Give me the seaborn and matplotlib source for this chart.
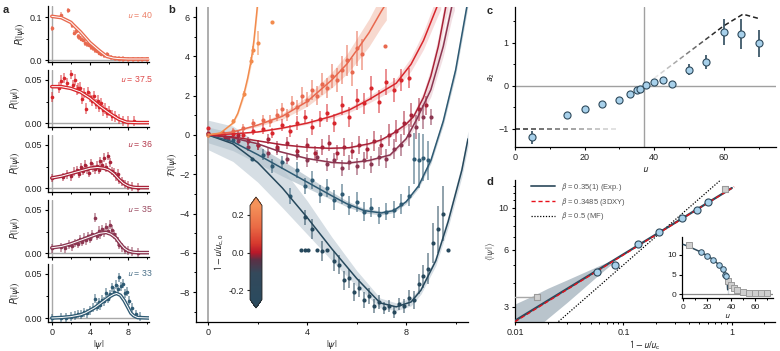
import numpy as np
import matplotlib
matplotlib.use("Agg")
import matplotlib.pyplot as plt
import seaborn as sns
from matplotlib.colors import LinearSegmentedColormap, Normalize, to_rgb
from matplotlib.ticker import FixedLocator, NullFormatter, LogLocator, FixedFormatter
from matplotlib.lines import Line2D
import matplotlib.cm as cm

sns.set_theme(style="ticks")
plt.rcParams['font.family'] = ['Liberation Sans', 'DejaVu Sans']
plt.rcParams['mathtext.fontset'] = 'stixsans'
plt.rcParams['axes.linewidth'] = 0.9
plt.rcParams['xtick.major.width'] = 0.8
plt.rcParams['ytick.major.width'] = 0.8
plt.rcParams['xtick.minor.width'] = 0.7
plt.rcParams['ytick.minor.width'] = 0.7
plt.rcParams['xtick.major.size'] = 2.5
plt.rcParams['ytick.major.size'] = 2.5
plt.rcParams['xtick.minor.size'] = 1.6
plt.rcParams['ytick.minor.size'] = 1.6
plt.rcParams['xtick.major.pad'] = 2
plt.rcParams['ytick.major.pad'] = 2
plt.rcParams['xtick.labelsize'] = 6.5
plt.rcParams['ytick.labelsize'] = 6.5

# ---------------- data: panel a ----------------
a_labels = ["40", "37.5", "36", "35", "33"]
a_colors = ["#e8694f", "#d8262c", "#a82238", "#8b3550", "#2e5a73"]
a_textcolors = ["#ec8068", "#de4a4a", "#b3384b", "#9a4a60", "#4a7088"]

a1_cx = [0, 1, 2, 2.26, 3, 4, 5, 5.76, 6.5, 7, 8, 9, 10.2]
a1_cy = [0.102, 0.099, 0.088, 0.082, 0.066, 0.041, 0.022, 0.009, 0.005, 0.004, 0.003, 0.003, 0.003]
a1_px = [0.0, 1.0, 1.75, 2.1, 2.3, 2.5, 2.7, 2.9, 3.1, 3.3, 3.5, 3.7, 3.9, 4.1, 4.3, 4.5, 4.7, 4.9, 5.2, 5.5, 5.8, 6.2, 6.6, 7.0, 7.5, 8.0, 8.5, 9.0, 9.5, 10.0]
a1_py = [0.074, 0.105, 0.116, 0.082, 0.064, 0.068, 0.056, 0.054, 0.050, 0.048, 0.040, 0.037, 0.036, 0.030, 0.028, 0.024, 0.022, 0.018, 0.015, 0.012, 0.014, 0.007, 0.005, 0.004, 0.003, 0.002, 0.002, 0.002, 0.002, 0.002]
a1_err = 0.006

a2_cx = [0, 1, 2, 3, 4, 5, 6, 7, 7.86, 9, 10.2]
a2_cy = [0.042, 0.042, 0.040, 0.036, 0.029, 0.020, 0.012, 0.005, 0.0015, 0.001, 0.001]
a2_px = [0.0, 0.8, 1.0, 1.3, 1.6, 2.0, 2.2, 2.4, 2.6, 2.8, 3.0, 3.2, 3.4, 3.6, 3.8, 4.0, 4.2, 4.4, 4.6, 4.8, 5.0, 5.2, 5.4, 5.6, 5.8, 6.0, 6.3, 6.6, 7.0, 7.5, 8.0, 8.6]
a2_py = [0.030, 0.041, 0.049, 0.052, 0.046, 0.057, 0.044, 0.050, 0.038, 0.040, 0.041, 0.028, 0.035, 0.017, 0.036, 0.030, 0.026, 0.031, 0.022, 0.026, 0.019, 0.023, 0.015, 0.017, 0.012, 0.014, 0.009, 0.008, 0.005, 0.003, 0.002, 0.003]
a2_err = 0.006

a3_cx = [0, 1, 2, 3, 4, 4.8, 5.5, 6, 6.5, 7, 7.5, 8, 8.5, 9, 10.2]
a3_cy = [0.012, 0.014, 0.017, 0.020, 0.023, 0.024, 0.023, 0.021, 0.017, 0.011, 0.006, 0.003, 0.0015, 0.001, 0.001]
a3_px = [0.0, 1.2, 1.6, 2.0, 2.3, 2.6, 2.9, 3.1, 3.3, 3.5, 3.7, 3.9, 4.1, 4.3, 4.5, 4.7, 4.9, 5.1, 5.3, 5.5, 5.7, 5.9, 6.1, 6.3, 6.5, 6.7, 6.9, 7.1, 7.4, 7.7, 8.0, 8.4, 9.0]
a3_py = [0.012, 0.013, 0.016, 0.014, 0.019, 0.021, 0.017, 0.024, 0.020, 0.027, 0.022, 0.018, 0.029, 0.024, 0.022, 0.026, 0.021, 0.031, 0.027, 0.035, 0.024, 0.037, 0.030, 0.020, 0.018, 0.014, 0.017, 0.010, 0.008, 0.005, 0.003, 0.002, 0.001]
a3_err = 0.005

a4_cx = [0, 1, 2, 3, 4, 5, 5.7, 6.2, 6.7, 7.2, 7.6, 8, 8.5, 9, 10.2]
a4_cy = [0.0065, 0.008, 0.011, 0.015, 0.019, 0.023, 0.024, 0.022, 0.018, 0.011, 0.006, 0.003, 0.0015, 0.001, 0.001]
a4_px = [0.0, 1.0, 1.4, 1.8, 2.1, 2.4, 2.7, 3.0, 3.2, 3.4, 3.6, 3.8, 4.0, 4.2, 4.5, 4.7, 4.9, 5.1, 5.3, 5.5, 5.7, 5.9, 6.1, 6.3, 6.5, 6.7, 6.9, 7.1, 7.4, 7.7, 8.0, 8.4, 9.0]
a4_py = [0.006, 0.007, 0.006, 0.010, 0.008, 0.012, 0.011, 0.016, 0.013, 0.018, 0.015, 0.020, 0.017, 0.022, 0.041, 0.020, 0.026, 0.022, 0.028, 0.024, 0.030, 0.026, 0.033, 0.027, 0.022, 0.018, 0.014, 0.010, 0.007, 0.004, 0.003, 0.002, 0.001]
a4_err = 0.005

a5_cx = [0, 1, 2, 3, 3.5, 4, 4.5, 5, 5.5, 6, 6.5, 6.8, 7.2, 7.6, 8, 8.3, 8.6, 9, 10.2]
a5_cy = [0.0005, 0.001, 0.002, 0.004, 0.006, 0.009, 0.012, 0.016, 0.020, 0.024, 0.027, 0.028, 0.026, 0.020, 0.012, 0.006, 0.003, 0.001, 0.0005]
a5_px = [0.0, 1.0, 1.5, 2.0, 2.4, 2.8, 3.1, 3.4, 3.7, 4.0, 4.3, 4.5, 4.7, 4.9, 5.1, 5.3, 5.5, 5.7, 5.9, 6.1, 6.3, 6.5, 6.7, 6.9, 7.1, 7.3, 7.5, 7.7, 7.9, 8.1, 8.4, 8.8, 9.3]
a5_py = [0.0005, 0.001, 0.001, 0.002, 0.003, 0.005, 0.004, 0.007, 0.006, 0.009, 0.012, 0.022, 0.013, 0.018, 0.015, 0.021, 0.019, 0.029, 0.022, 0.027, 0.035, 0.030, 0.038, 0.033, 0.046, 0.036, 0.039, 0.028, 0.030, 0.020, 0.012, 0.005, 0.002]
a5_err = 0.005

# ---------------- data: panel b ----------------
or_cx = [0, 0.5, 1.0, 1.2, 1.43, 1.6, 1.74, 1.85, 1.97, 2.02]
or_cy = [0, 0.1, 0.6, 1.1, 2.0, 2.9, 3.8, 4.8, 6.3, 7.0]
or_w = [0, 0.02, 0.05, 0.1, 0.15, 0.2, 0.25, 0.3, 0.35, 0.4]
or_px = [0.0, 1.0, 1.43, 1.74, 1.8, 2.03, 2.6]
or_py = [0.0, 0.73, 2.09, 3.78, 4.3, 4.67, 5.73]
or_pe = [0.05, 0.1, 0.15, 0.2, 0.25, 0.6, 0.0]

sal_cx = [0, 1, 2, 3, 4, 5, 5.6, 6, 6.5, 7, 7.2]
sal_cy = [0, 0.15, 0.5, 0.95, 1.7, 2.8, 3.6, 4.3, 5.2, 6.3, 6.7]
sal_w = [0, 0.03, 0.08, 0.15, 0.25, 0.4, 0.5, 0.6, 0.7, 0.8, 0.85]
sal_px = [0.0, 0.5, 1.0, 1.4, 1.8, 2.2, 2.5, 2.8, 3.0, 3.2, 3.4, 3.6, 3.8, 4.0, 4.2, 4.4, 4.6, 4.8, 5.0, 5.2, 5.4, 5.6, 5.8, 6.0, 6.2, 7.15]
sal_py = [0.0, 0.05, 0.2, 0.35, 0.6, 0.75, 0.7, 1.0, 1.3, 1.0, 1.6, 1.4, 2.0, 1.8, 2.3, 2.0, 2.6, 2.4, 3.0, 2.8, 3.3, 3.8, 3.2, 4.4, 4.1, 4.5]
sal_pe = [0.05, 0.1, 0.15, 0.2, 0.2, 0.25, 0.3, 0.3, 0.35, 0.3, 0.4, 0.4, 0.45, 0.4, 0.5, 0.5, 0.55, 0.5, 0.6, 0.6, 0.7, 0.8, 0.7, 0.9, 0.8, 0.0]

red_cx = [0, 1, 2, 3, 4, 5, 5.7, 6.5, 7.6, 8.2, 8.7, 9.24, 9.4]
red_cy = [0, 0.05, 0.15, 0.35, 0.6, 0.95, 1.27, 1.8, 2.63, 3.6, 4.8, 6.5, 7.0]
red_w = [0, 0, 0.02, 0.04, 0.06, 0.1, 0.13, 0.18, 0.25, 0.35, 0.45, 0.55, 0.6]
red_px = [0.0, 0.6, 1.0, 1.4, 1.8, 2.2, 2.6, 3.0, 3.3, 3.6, 3.9, 4.2, 4.5, 4.8, 5.1, 5.4, 5.7, 6.0, 6.3, 6.6, 6.9, 7.2, 7.5, 7.8, 8.1]
red_py = [0.35, 0.1, 0.05, 0.0, 0.2, 0.3, 0.1, 0.5, 0.2, 0.6, 0.9, 0.4, 0.8, 1.1, 0.6, 1.5, 0.9, 1.8, 1.6, 2.4, 1.7, 2.7, 2.3, 2.8, 2.9]
red_pe = [0.05, 0.1, 0.15, 0.2, 0.2, 0.25, 0.25, 0.3, 0.3, 0.35, 0.35, 0.4, 0.4, 0.45, 0.45, 0.5, 0.5, 0.55, 0.55, 0.6, 0.6, 0.65, 0.6, 0.55, 0.5]

dred_cx = [0, 1, 2, 3, 4, 4.9, 5.7, 6.5, 7, 7.5, 8, 8.3, 8.7, 9, 9.3, 9.6, 9.7]
dred_cy = [0, -0.1, -0.3, -0.5, -0.63, -0.68, -0.65, -0.45, -0.25, 0.1, 0.55, 0.93, 1.9, 3.0, 4.5, 6.5, 7.0]
dred_w = [0, 0, 0, 0.02, 0.03, 0.04, 0.05, 0.06, 0.08, 0.1, 0.15, 0.2, 0.3, 0.4, 0.5, 0.6, 0.65]
dred_px = [0.0, 0.7, 1.2, 1.6, 2.0, 2.4, 2.8, 3.2, 3.6, 4.0, 4.3, 4.6, 4.9, 5.2, 5.5, 5.8, 6.1, 6.4, 6.7, 7.0, 7.3, 7.6, 7.9, 8.2, 8.5, 8.8]
dred_py = [0.1, -0.1, 0.0, -0.3, -0.5, -0.2, -0.6, -0.4, -0.8, -0.5, -0.9, -0.6, -0.4, -0.9, -0.6, -0.8, -0.5, -0.7, -0.3, -0.5, 0.0, 0.2, 0.6, 1.0, 1.3, 1.5]
dred_pe = [0.05, 0.15, 0.2, 0.2, 0.25, 0.25, 0.3, 0.3, 0.35, 0.35, 0.35, 0.4, 0.4, 0.4, 0.45, 0.45, 0.45, 0.5, 0.5, 0.5, 0.55, 0.55, 0.6, 0.6, 0.6, 0.5]

mar_cx = [0, 1, 2, 2.9, 4, 5, 5.6, 6.5, 7.35, 8, 8.43, 9, 9.5, 9.84, 9.95]
mar_cy = [0, -0.15, -0.45, -0.85, -1.2, -1.4, -1.44, -1.3, -1.02, -0.2, 0.8, 2.3, 4.5, 6.5, 7.0]
mar_w = [0, 0, 0.02, 0.03, 0.04, 0.05, 0.05, 0.06, 0.08, 0.15, 0.25, 0.35, 0.5, 0.6, 0.65]
mar_px = [0.0, 0.8, 1.2, 1.6, 2.0, 2.4, 2.8, 3.2, 3.6, 4.0, 4.4, 4.8, 5.1, 5.4, 5.7, 6.0, 6.3, 6.6, 6.9, 7.2, 7.5, 7.8, 8.1, 8.4, 8.7, 9.0]
mar_py = [0.05, -0.2, -0.3, -0.6, -0.5, -0.9, -0.7, -1.2, -1.0, -1.3, -1.1, -1.5, -1.3, -1.7, -1.4, -1.6, -1.3, -1.5, -1.1, -1.2, -0.7, -0.5, 0.0, 0.4, 0.9, 0.9]
mar_pe = [0.05, 0.15, 0.2, 0.2, 0.25, 0.25, 0.3, 0.3, 0.3, 0.35, 0.35, 0.35, 0.4, 0.4, 0.4, 0.45, 0.45, 0.45, 0.5, 0.5, 0.5, 0.55, 0.55, 0.6, 0.6, 0.4]

sl1_cx = [0, 1, 2, 3, 4, 5, 5.6, 6.3, 7.0, 7.5, 8.0, 8.5, 9.0, 9.5, 10.0, 10.45, 10.5]
sl1_cy = [0, -0.35, -1.0, -1.7, -2.4, -3.1, -3.5, -3.85, -3.97, -3.85, -3.4, -2.6, -1.3, 0.7, 3.3, 6.5, 6.9]
sl1_w = [0.4, 0.45, 0.45, 0.4, 0.3, 0.2, 0.15, 0.12, 0.1, 0.1, 0.1, 0.12, 0.15, 0.2, 0.25, 0.3, 0.3]
sl1_px = [0.0, 1.0, 1.77, 2.2, 2.6, 3.0, 3.3, 3.6, 3.9, 4.2, 4.5, 4.8, 5.1, 5.4, 5.7, 6.0, 6.3, 6.6, 6.9, 7.2, 7.5, 7.8, 8.1, 8.3, 8.5, 8.7, 8.9]
sl1_py = [0.05, -0.25, -1.24, -1.0, -1.6, -1.4, -3.1, -1.8, -2.6, -2.3, -3.0, -2.7, -3.3, -3.0, -3.6, -3.4, -3.9, -3.7, -4.1, -3.9, -3.8, -3.5, -3.1, -1.2, -1.3, -1.15, -1.3]
sl1_pe = [0.05, 0.15, 0.0, 0.3, 0.35, 0.35, 0.4, 0.4, 0.4, 0.45, 0.45, 0.45, 0.5, 0.5, 0.5, 0.5, 0.5, 0.5, 0.45, 0.45, 0.45, 0.5, 0.5, 1.3, 1.4, 1.2, 1.0]

sl2_cx = [0, 1, 2, 3, 4, 5, 6, 6.95, 7.6, 8.2, 8.6, 9.2, 9.7, 10.25, 10.5]
sl2_cy = [0, -0.45, -1.4, -2.7, -4.2, -5.8, -7.3, -8.55, -8.75, -8.5, -7.9, -6.4, -4.4, -1.8, -0.2]
sl2_w = [0.75, 0.9, 1.0, 1.0, 0.85, 0.6, 0.4, 0.25, 0.2, 0.2, 0.2, 0.25, 0.3, 0.35, 0.4]
sl2_px = [3.9, 4.2, 4.6, 5.1, 5.3, 5.5, 5.7, 5.9, 6.1, 6.3, 6.5, 6.7, 6.9, 7.1, 7.3, 7.5, 7.7, 7.9, 8.1, 8.3, 8.5, 8.7, 8.9, 9.1, 9.3, 9.5]
sl2_py = [-4.2, -4.8, -5.9, -6.4, -6.6, -7.4, -7.3, -8.0, -7.8, -8.4, -8.2, -8.7, -8.5, -8.8, -8.7, -9.0, -8.6, -8.7, -8.3, -8.4, -7.6, -7.2, -6.8, -5.5, -4.8, -4.0]
sl2_pe = [0.4, 0.5, 0.5, 0.5, 0.5, 0.5, 0.5, 0.45, 0.45, 0.4, 0.4, 0.35, 0.35, 0.3, 0.3, 0.3, 0.3, 0.35, 0.4, 0.45, 0.5, 0.6, 0.8, 1.0, 1.2, 1.4]
sl2_out_x = [3.75, 3.9, 4.05, 4.4, 4.8, 9.7]
sl2_out_y = [-5.85, -5.85, -5.85, -5.85, -5.85, -5.85]

cbar_ticks = [-0.2, 0.0, 0.2]

# ---------------- data: panel c ----------------
c_u = [5, 15, 20, 25, 30, 33, 35, 36, 37.5, 40, 42.5, 45, 50, 55, 60, 65, 70]
c_a2 = [-1.19, -0.67, -0.54, -0.42, -0.32, -0.19, -0.09, -0.07, 0.02, 0.10, 0.14, 0.04, 0.38, 0.56, 1.25, 1.20, 0.99]
c_err = [0.15, 0.03, 0.03, 0.03, 0.03, 0.03, 0.03, 0.03, 0.04, 0.04, 0.05, 0.08, 0.13, 0.17, 0.30, 0.35, 0.32]
c_left_u = [0, 30]
c_left_y = [-1, -1]
c_right_u = [40, 60, 65.5, 70]
c_right_y = [0.18, 1.40, 1.67, 1.57]
c_uc = 37

# ---------------- data: panel d ----------------
d_circ_x = [0.0566, 0.0832, 0.136, 0.214, 0.345, 0.474, 0.598]
d_circ_y = [4.58, 5.0, 6.42, 7.48, 8.77, 9.7, 10.7]
d_sq_x = [0.0161, 0.863]
d_sq_y = [3.38, 12.5]
d_exp_x = [0.01, 1.0]
d_exp_y = [2.53, 12.7]
d_xy_x = [0.01, 1.05]
d_xy_y = [2.50, 12.9]
d_mf_x = [0.02, 0.8]
d_mf_y = [2.23, 14.1]
d_band_x = [0.01, 0.015, 0.02, 0.03, 0.045, 0.06, 0.08]
d_band_hi = [3.1, 3.45, 3.75, 4.15, 4.6, 4.95, 5.3]
d_band_lo = [1.9, 2.25, 2.6, 3.15, 3.85, 4.45, 5.1]
in_circ_u = [15, 20, 25, 30, 33, 35, 36]
in_circ_y = [10.7, 9.7, 8.77, 7.48, 6.42, 5.0, 4.58]
in_sq_u = [5, 37.5, 40, 42.5, 45, 50, 55, 60, 65, 70]
in_sq_y = [12.5, 3.4, 2.3, 1.6, 1.1, 0.6, 0.4, 0.35, 0.3, 0.3]
in_fit_u = [0, 5, 10, 15, 20, 25, 30, 33, 35, 36, 36.5, 37, 37]
in_fit_y = [12.7, 12.1, 11.4, 10.7, 9.8, 8.8, 7.4, 6.3, 5.0, 4.1, 3.4, 2.2, 0]

# ---------------- figure ----------------
W, H = 780, 351
fig = plt.figure(figsize=(W / 100, H / 100), dpi=100)


def add_ax(l, t, r, b):
    return fig.add_axes([l / W, 1 - b / H, (r - l) / W, (b - t) / H])


def style(ax):
    sns.despine(ax=ax)
    for s in ["left", "bottom"]:
        ax.spines[s].set_color("black")
    ax.tick_params(which="both", direction="out", colors="black", labelcolor="#222222")


def pts(ax, x, y, e, c, ms=2.3, elw=1.1, ealpha=0.55, z=3):
    rgb = to_rgb(c)
    ax.errorbar(x, y, yerr=e, fmt="none", ecolor=(*rgb, ealpha), elinewidth=elw, capsize=0, zorder=z)
    sns.scatterplot(x=x, y=y, ax=ax, color=c, s=ms ** 2, linewidth=0, zorder=z + 0.5, legend=False)


# ----- panel a -----
rows = [(6, 62), (70, 127), (135, 192), (200, 257), (264, 322)]
a_data = [(a1_cx, a1_cy, a1_px, a1_py, a1_err), (a2_cx, a2_cy, a2_px, a2_py, a2_err),
          (a3_cx, a3_cy, a3_px, a3_py, a3_err), (a4_cx, a4_cy, a4_px, a4_py, a4_err),
          (a5_cx, a5_cy, a5_px, a5_py, a5_err)]
for i, ((t, b), (cx, cy, px, py, pe)) in enumerate(zip(rows, a_data)):
    ax = add_ax(48, t, 149, b)
    style(ax)
    c = a_colors[i]
    ax.axvline(0, color="#a8a8a8", lw=1.0, zorder=1)
    ax.axhline(0, color="#a8a8a8", lw=1.0, zorder=1)
    pts(ax, px, py, pe, c, ms=2.6, elw=1.2)
    sns.lineplot(x=cx, y=cy, ax=ax, color=c, lw=2.6, zorder=5, sort=False)
    ax.plot(cx, cy, color="white", lw=0.7, zorder=6)
    ax.set_xlim(-0.4, 10.2)
    if i == 0:
        ax.set_ylim(-0.004, 0.126)
        ax.yaxis.set_major_locator(FixedLocator([0, 0.1]))
        ax.yaxis.set_major_formatter(FixedFormatter(["0.0", "0.1"]))
        ax.yaxis.set_minor_locator(FixedLocator([0.05]))
    else:
        ax.set_ylim(-0.004, 0.061)
        ax.yaxis.set_major_locator(FixedLocator([0, 0.05]))
        ax.yaxis.set_major_formatter(FixedFormatter(["0.00", "0.05"]))
        ax.yaxis.set_minor_locator(FixedLocator([0.025]))
    ax.xaxis.set_major_locator(FixedLocator([0, 4, 8]))
    ax.xaxis.set_minor_locator(FixedLocator([2, 6, 10]))
    if i < 4:
        ax.xaxis.set_major_formatter(NullFormatter())
        ax.set_xlabel("")
    else:
        ax.set_xlabel(r"$|\psi|$", fontsize=7, labelpad=1)
    ax.set_ylabel(r"$P(|\psi|)$", fontsize=7, labelpad=1.5)
    ax.text(1.04, 0.83, r"$u$ = " + a_labels[i], transform=ax.transAxes, ha="right",
            va="center", fontsize=6.3, color=a_textcolors[i])

# ----- panel b -----
axb = add_ax(196, 7, 468, 322)
style(axb)
axb.set_xlim(-0.49, 10.5)
axb.set_ylim(-9.52, 6.51)
axb.axvline(0, color="#a0a0a0", lw=1.2, zorder=1)


def band(ax, x, y, w, color, alpha, z):
    x = np.asarray(x); y = np.asarray(y); w = np.asarray(w)
    ax.fill_between(x, y - w, y + w, color=color, alpha=alpha, lw=0, zorder=z)


band(axb, sl2_cx, sl2_cy, sl2_w, "#d6dee4", 1.0, 0.5)
band(axb, sl1_cx, sl1_cy, sl1_w, "#b9c7d0", 0.8, 0.6)
band(axb, sal_cx, sal_cy, sal_w, "#f3c0b0", 0.6, 0.7)
band(axb, red_cx, red_cy, red_w, "#f0b8b8", 0.5, 0.7)
band(axb, dred_cx, dred_cy, dred_w, "#ebbcc2", 0.5, 0.7)
band(axb, mar_cx, mar_cy, mar_w, "#e5c0c8", 0.5, 0.7)
band(axb, or_cx, or_cy, or_w, "#f9cfb0", 0.7, 0.7)

b_series = [
    (sl2_cx, sl2_cy, sl2_px, sl2_py, sl2_pe, "#26485c"),
    (sl1_cx, sl1_cy, sl1_px, sl1_py, sl1_pe, "#2e5a73"),
    (mar_cx, mar_cy, mar_px, mar_py, mar_pe, "#8b3550"),
    (dred_cx, dred_cy, dred_px, dred_py, dred_pe, "#a82238"),
    (red_cx, red_cy, red_px, red_py, red_pe, "#d8262c"),
    (sal_cx, sal_cy, sal_px, sal_py, sal_pe, "#e8694f"),
    (or_cx, or_cy, or_px, or_py, or_pe, "#f28b4d"),
]
for k, (cx, cy, px, py, pe, c) in enumerate(b_series):
    pts(axb, px, py, pe, c, ms=3.0, elw=1.2, ealpha=0.6, z=3 + k * 0.1)
    sns.lineplot(x=cx, y=cy, ax=axb, color=c, lw=1.1, zorder=5, sort=False)
sns.scatterplot(x=sl2_out_x, y=sl2_out_y, ax=axb, color="#26485c", s=9, linewidth=0, zorder=4, legend=False)

axb.xaxis.set_major_locator(FixedLocator([0, 4, 8]))
axb.xaxis.set_minor_locator(FixedLocator([2, 6, 10]))
axb.yaxis.set_major_locator(FixedLocator([-8, -6, -4, -2, 0, 2, 4, 6]))
axb.yaxis.set_minor_locator(FixedLocator([-9, -7, -5, -3, -1, 1, 3, 5]))
axb.set_xlabel(r"$|\psi|$", fontsize=7, labelpad=1)
axb.set_ylabel(r"$\mathcal{F}(|\psi|)$", fontsize=7, labelpad=0)

# colorbar
cmap = LinearSegmentedColormap.from_list("bcm", [
    (0.0, "#2b4a5e"), (0.28, "#33495b"), (0.42, "#5a3045"), (0.5, "#b8182a"),
    (0.6, "#d73a2e"), (0.78, "#ea6c45"), (1.0, "#f4925a")])
cax = add_ax(250, 197, 262, 308)
sm = cm.ScalarMappable(norm=Normalize(-0.25, 0.25), cmap=cmap)
cb = fig.colorbar(sm, cax=cax, extend="both", extendfrac=0.09)
cb.outline.set_linewidth(0.6)
cb.set_ticks(cbar_ticks)
cb.set_ticklabels(["-0.2", "0.0", "0.2"])
cax.yaxis.set_ticks_position("left")
cax.yaxis.set_label_position("left")
cax.tick_params(labelsize=6.5, length=2, pad=2)
cax.set_ylabel(r"$1-u/u_{\mathrm{c},0}$", fontsize=7, labelpad=2)

# ----- panel c -----
axc = add_ax(515, 7, 776, 147)
style(axc)
axc.set_xlim(0, 75)
axc.set_ylim(-1.419, 1.837)
axc.axvline(c_uc, color="#a0a0a0", lw=1.0, zorder=1)
axc.axhline(0, color="#a0a0a0", lw=1.0, zorder=1)
fig.canvas.draw()


def fade_dash(ax, xs, ys, c_start, c_end, f0, f1, dash=5.0, gap=3.0, lw=1.1):
    pix = ax.transData.transform(np.column_stack([xs, ys]))
    seg = np.hypot(np.diff(pix[:, 0]), np.diff(pix[:, 1]))
    s = np.concatenate([[0], np.cumsum(seg)])
    L = s[-1]
    c0 = np.array(to_rgb(c_start)); c1 = np.array(to_rgb(c_end))
    pos = 0.0
    while pos < L:
        e = min(pos + dash, L)
        ss = np.array([pos, e])
        px = np.interp(ss, s, pix[:, 0]); py = np.interp(ss, s, pix[:, 1])
        d = ax.transData.inverted().transform(np.column_stack([px, py]))
        f = ((pos + e) / 2) / L
        t = np.clip((f - f0) / (f1 - f0), 0, 1)
        col = c0 + (c1 - c0) * t
        ax.plot(d[:, 0], d[:, 1], color=col, lw=lw, solid_capstyle="butt", zorder=2)
        pos += dash + gap


fade_dash(axc, c_left_u, c_left_y, "#1a1a1a", "#e6e6e6", 0.0, 1.0)
fade_dash(axc, c_right_u, c_right_y, "#eeeeee", "#222222", 0.0, 0.62)
axc.errorbar(c_u, c_a2, yerr=c_err, fmt="none", ecolor="#2e4a5c", elinewidth=1.2, capsize=0, zorder=3)
sns.scatterplot(x=c_u, y=c_a2, ax=axc, color="#a7d0ea", edgecolor="#2e4a5c", linewidth=0.8,
                s=26, zorder=4, legend=False)
axc.xaxis.set_major_locator(FixedLocator([0, 20, 40, 60]))
axc.xaxis.set_minor_locator(FixedLocator([10, 30, 50, 70]))
axc.yaxis.set_major_locator(FixedLocator([-1, 0, 1]))
axc.yaxis.set_minor_locator(FixedLocator([-0.5, 0.5, 1.5]))
axc.set_xlabel(r"$u$", fontsize=7, labelpad=1)
axc.set_ylabel(r"$a_2$", fontsize=7, labelpad=1)

# ----- panel d -----
axd = add_ax(515, 180, 775, 322)
style(axd)
axd.set_xscale("log")
axd.set_yscale("log")
axd.set_xlim(0.01, 2.5)
axd.set_ylim(2.49, 14.0)
axd.fill_between(d_band_x, d_band_lo, d_band_hi, color="#b9c4cc", lw=0, zorder=1)
axd.plot(d_mf_x, d_mf_y, color="black", lw=0.9, ls=(0, (1, 1.3)), zorder=2)
sns.lineplot(x=d_exp_x, y=d_exp_y, ax=axd, color="#2e4a5c", lw=1.6, zorder=3, sort=False)
axd.plot(d_xy_x, d_xy_y, color="#e8101a", lw=1.0, ls=(0, (3, 2)), zorder=4)
axd.errorbar([d_sq_x[0]], [d_sq_y[0]], xerr=[[0.0125], [0.0]], fmt="none", ecolor="#a8a8a8",
             elinewidth=1.0, capsize=0, zorder=4)
axd.scatter(d_sq_x, d_sq_y, marker="s", s=22, color="#cfcfcf", edgecolor="#9a9a9a", linewidth=0.8, zorder=5)
sns.scatterplot(x=d_circ_x, y=d_circ_y, ax=axd, color="#a7d0ea", edgecolor="#2e4a5c", linewidth=0.8,
                s=26, zorder=6, legend=False)
axd.xaxis.set_major_locator(FixedLocator([0.01, 0.1, 1]))
axd.xaxis.set_major_formatter(FixedFormatter(["0.01", "0.1", "1"]))
axd.xaxis.set_minor_locator(LogLocator(base=10, subs=np.arange(2, 10)))
axd.xaxis.set_minor_formatter(NullFormatter())
axd.yaxis.set_major_locator(FixedLocator([3, 6, 10]))
axd.yaxis.set_major_formatter(FixedFormatter(["3", "6", "10"]))
axd.yaxis.set_minor_locator(FixedLocator([4, 5, 7, 8, 9, 11, 12, 13]))
axd.yaxis.set_minor_formatter(NullFormatter())
axd.set_xlabel(r"$1-u/u_\mathrm{c}$", fontsize=7, labelpad=1)
axd.set_ylabel(r"$\langle|\psi|\rangle$", fontsize=7, labelpad=1, color="#555555")
handles = [Line2D([], [], color="#4a6272", lw=1.4),
           Line2D([], [], color="#e8101a", lw=1.0, ls=(0, (3, 2))),
           Line2D([], [], color="black", lw=0.9, ls=(0, (1, 1.3)))]
labels = [r"$\beta$ = 0.35(1) (Exp.)", r"$\beta$ = 0.3485 (3DXY)", r"$\beta$ = 0.5 (MF)"]
leg = axd.legend(handles, labels, loc="upper left", bbox_to_anchor=(0.04, 1.03), frameon=False,
                 fontsize=5.5, handlelength=3.2, labelspacing=0.35, handletextpad=0.8, borderpad=0.2)
for tx in leg.get_texts():
    tx.set_color("#555555")

# inset
axi = add_ax(682, 237, 773, 298)
style(axi)
axi.set_xlim(-1.1, 74.8)
axi.set_ylim(-1.0, 14.6)
axi.axhline(0, color="#8a8a8a", lw=0.9, zorder=1)
sns.lineplot(x=in_fit_u, y=in_fit_y, ax=axi, color="#2e4a5c", lw=1.1, zorder=3, sort=False)
axi.scatter(in_sq_u, in_sq_y, marker="s", s=16, color="#cfcfcf", edgecolor="#9a9a9a", linewidth=0.7, zorder=4)
sns.scatterplot(x=in_circ_u, y=in_circ_y, ax=axi, color="#a7d0ea", edgecolor="#2e4a5c", linewidth=0.7,
                s=16, zorder=5, legend=False)
axi.xaxis.set_major_locator(FixedLocator([0, 20, 40, 60]))
axi.xaxis.set_minor_locator(FixedLocator([10, 30, 50, 70]))
axi.yaxis.set_major_locator(FixedLocator([0, 5, 10]))
axi.tick_params(labelsize=6, pad=1.5)
axi.set_xlabel(r"$u$", fontsize=6.5, labelpad=0)
axi.set_ylabel("")

# panel letters
for ch, (x, y) in {"a": (6, 10), "b": (172, 10), "c": (490, 11), "d": (490, 182)}.items():
    fig.text(x / W, 1 - y / H, ch, fontsize=8, fontweight="bold", ha="center", va="center")

fig.savefig("out.png", dpi=100)
